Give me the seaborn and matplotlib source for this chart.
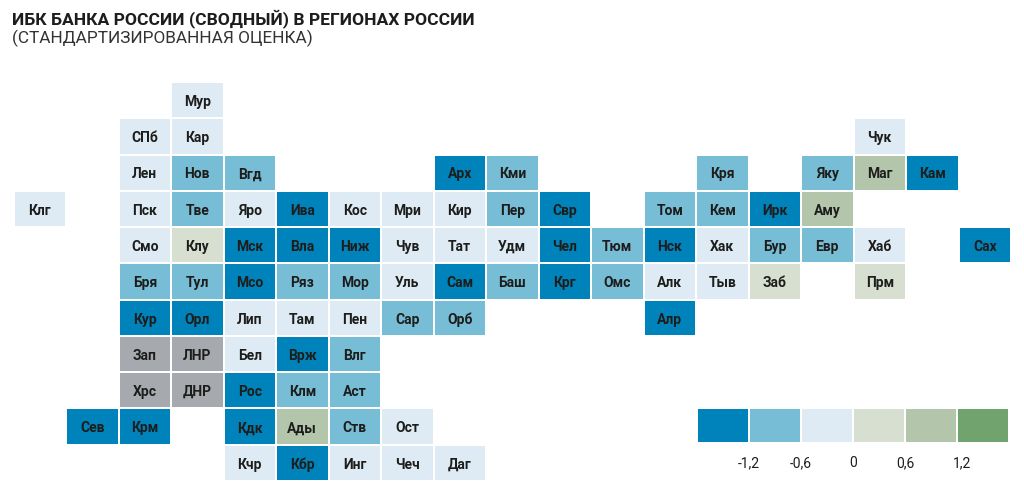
# -*- coding: utf-8 -*-
# ИБК Банка России по регионам: тепловая карта-сетка
import pandas as pd
import seaborn as sns
import matplotlib.pyplot as plt
from matplotlib.colors import ListedColormap, BoundaryNorm

FONT = ['Roboto', 'DejaVu Sans']
TEXT_COLOR = '#1d1d1b'

# Регионы: подпись, строка сетки, столбец сетки, значение (оценка по цвету)
labels = [
    'Мур',
    'СПб', 'Кар', 'Чук',
    'Лен', 'Нов', 'Вгд', 'Арх', 'Кми', 'Кря', 'Яку', 'Маг', 'Кам',
    'Клг', 'Пск', 'Тве', 'Яро', 'Ива', 'Кос', 'Мри', 'Кир', 'Пер', 'Свр', 'Том', 'Кем', 'Ирк', 'Аму',
    'Смо', 'Клу', 'Мск', 'Вла', 'Ниж', 'Чув', 'Тат', 'Удм', 'Чел', 'Тюм', 'Нск', 'Хак', 'Бур', 'Евр', 'Хаб', 'Сах',
    'Бря', 'Тул', 'Мсо', 'Ряз', 'Мор', 'Уль', 'Сам', 'Баш', 'Крг', 'Омс', 'Алк', 'Тыв', 'Заб', 'Прм',
    'Кур', 'Орл', 'Лип', 'Там', 'Пен', 'Сар', 'Орб', 'Алр',
    'Зап', 'ЛНР', 'Бел', 'Врж', 'Влг',
    'Хрс', 'ДНР', 'Рос', 'Клм', 'Аст',
    'Сев', 'Крм', 'Кдк', 'Ады', 'Ств', 'Ост',
    'Кчр', 'Кбр', 'Инг', 'Чеч', 'Даг',
]
rows = (
    [0] + [1] * 3 + [2] * 9 + [3] * 14 + [4] * 16 + [5] * 14
    + [6] * 8 + [7] * 5 + [8] * 5 + [9] * 6 + [10] * 5
)
cols = [
    3,
    2, 3, 16,
    2, 3, 4, 8, 9, 13, 15, 16, 17,
    0, 2, 3, 4, 5, 6, 7, 8, 9, 10, 12, 13, 14, 15,
    2, 3, 4, 5, 6, 7, 8, 9, 10, 11, 12, 13, 14, 15, 16, 18,
    2, 3, 4, 5, 6, 7, 8, 9, 10, 11, 12, 13, 14, 16,
    2, 3, 4, 5, 6, 7, 8, 12,
    2, 3, 4, 5, 6,
    2, 3, 4, 5, 6,
    1, 2, 4, 5, 6, 7,
    4, 5, 6, 7, 8,
]
values = [
    -0.3,
    -0.3, -0.3, -0.3,
    -0.3, -0.9, -0.9, -1.5, -0.9, -0.9, -0.9, 0.9, -1.5,
    -0.3, -0.3, -0.9, -0.3, -1.5, -0.3, -0.3, -0.3, -0.9, -1.5, -0.9, -0.9, -1.5, 0.9,
    -0.3, 0.3, -1.5, -1.5, -1.5, -0.3, -0.3, -0.3, -1.5, -0.9, -1.5, -0.3, -0.9, -0.9, -0.3, -1.5,
    -0.9, -0.9, -1.5, -0.9, -0.9, -0.3, -1.5, -0.9, -1.5, -0.9, -0.3, -0.3, 0.3, 0.3,
    -1.5, -1.5, -0.3, -0.3, -0.3, -0.9, -0.9, -1.5,
    None, None, -0.3, -1.5, -0.9,
    None, None, -1.5, -0.9, -0.9,
    -1.5, -1.5, -1.5, 0.9, -0.9, -0.3,
    -0.3, -1.5, -0.3, -0.3, -0.3,
]

# Шкала
legend_values = [-1.5, -0.9, -0.3, 0.3, 0.9, 1.5]
legend_ticks = ['-1,2', '-0,6', '0', '0,6', '1,2']
bounds = [-1.8, -1.2, -0.6, 0, 0.6, 1.2, 1.8]
colors = ['#0082ba', '#78bdd6', '#deebf4', '#d7e0d0', '#b3c6ab', '#71a36f']
no_data_color = '#a6a9ae'

cmap = ListedColormap(colors)
norm = BoundaryNorm(bounds, cmap.N)

df = pd.DataFrame({'label': labels, 'row': rows, 'col': cols, 'value': values})
df['value'] = pd.to_numeric(df['value'])
df['no_data'] = df['value'].isna().map({True: 1.0, False: float('nan')})


def grid(column):
    return (
        df.pivot(index='row', columns='col', values=column)
        .reindex(index=range(11), columns=range(19))
    )


sns.set_theme(style='white')
plt.rcParams['font.family'] = FONT

fig = plt.figure(figsize=(10.24, 4.95), dpi=100)
ax = fig.add_axes([13.5 / 1024, 1 - 481 / 495, 997.5 / 1024, 399 / 495])

annot_kws = {'color': TEXT_COLOR, 'fontsize': 10, 'fontweight': 'bold'}
annot = grid('label').fillna('')

sns.heatmap(
    grid('value'), ax=ax, cmap=cmap, norm=norm, cbar=False,
    annot=annot, fmt='', annot_kws=annot_kws,
    linewidths=1.2, linecolor='white',
)
# регионы без оценки (серые)
sns.heatmap(
    grid('no_data'), ax=ax, cmap=ListedColormap([no_data_color]), cbar=False,
    annot=annot, fmt='', annot_kws=annot_kws,
    linewidths=1.2, linecolor='white',
)
ax.set_axis_off()
for t in ax.texts:
    x, y = t.get_position()
    t.set_position((x, y + 0.05))

# Легенда
ax_leg = fig.add_axes([697.3 / 1024, 1 - 442.5 / 495, 311.5 / 1024, 35 / 495])
sns.heatmap(
    pd.DataFrame([legend_values]), ax=ax_leg, cmap=cmap, norm=norm, cbar=False,
    linewidths=1.2, linecolor='white',
)
ax_leg.set_yticks([])
ax_leg.set_ylabel('')
ax_leg.set_xticks([1, 2, 3, 4, 5.1])
ax_leg.set_xticklabels(legend_ticks, rotation=0, fontsize=10, color=TEXT_COLOR, va='baseline')
ax_leg.tick_params(axis='x', length=0, pad=17.5)

# Заголовок
fig.text(12 / 1024, 1 - 19 / 495, 'ИБК БАНКА РОССИИ (СВОДНЫЙ) В РЕГИОНАХ РОССИИ',
         fontsize=12.6, fontweight='bold', color=TEXT_COLOR, va='center', ha='left')
fig.text(12 / 1024, 1 - 38 / 495, '(СТАНДАРТИЗИРОВАННАЯ ОЦЕНКА)',
         fontsize=12.4, color='#333333', va='center', ha='left')

fig.savefig('out.png', dpi=100)
